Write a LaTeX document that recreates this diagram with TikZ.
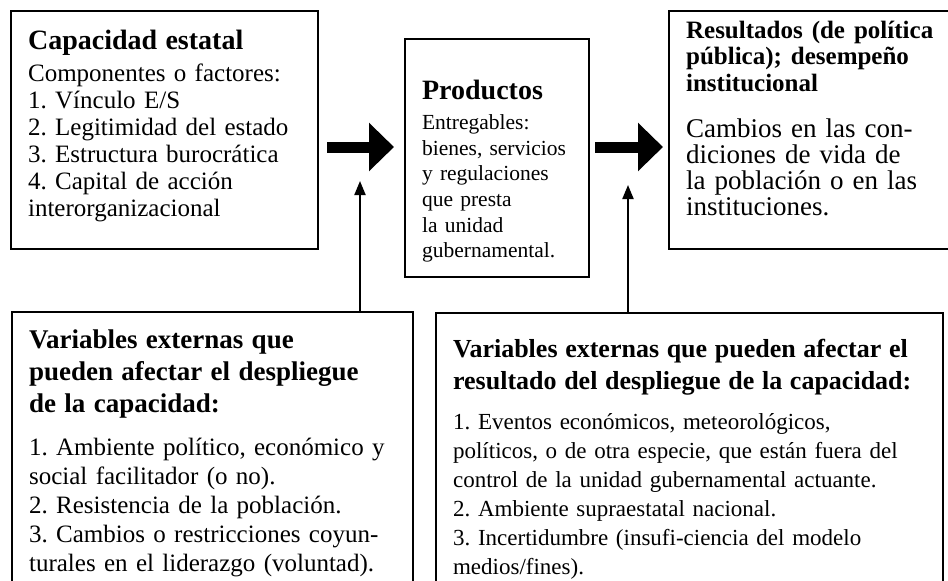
\documentclass[tikz,border=0pt]{standalone}
\usepackage{fontspec}
\setmainfont{Liberation Serif}
\frenchspacing
\usetikzlibrary{arrows.meta}

\newcommand{\hd}[3]{{\fontsize{#1}{#2}\selectfont\bfseries #3\par}}

\begin{document}
\begin{tikzpicture}[x=1pt, y=-1pt,
    box/.style={draw, line width=2.2pt, anchor=north west, align=left, inner xsep=17pt, inner ysep=0pt},
    bigarrow/.style={line width=11pt, -{Triangle[length=25pt, width=47pt]}},
    thinarrow/.style={line width=2pt, -{Triangle[length=14pt, width=11pt]}}]
    \useasboundingbox (0,0) rectangle (948,581);
    \clip (0,0) rectangle (948,581);

    % Boxes
    \node[box, text width=273pt, text height=38pt, text depth=200pt, font=\fontsize{25}{27}\selectfont] (cap) at (10,10)
        {\hd{28}{30}{Capacidad estatal}\vspace{5pt}Componentes o factores:\\1. Vínculo E/S\\2. Legitimidad del estado\\3. Estructura burocrática\\4. Capital de acción\\interorganizacional};
    \node[box, text width=150pt, text height=60pt, text depth=178pt, font=\fontsize{21.5}{25.6}\selectfont] (prod) at (404,38)
        {\hd{28}{30}{Productos}\vspace{5pt}Entregables:\\bienes, servicios\\y regulaciones\\que presta\\la unidad\\gubernamental.};
    \node[box, text width=310pt, text height=27pt, text depth=211pt, font=\fontsize{27}{26}\selectfont] (res) at (668,10)
        {\hd{25}{26.5}{Resultados (de política\\pública); desempeño\\institucional}\vspace{20pt}Cambios en las con-\\diciones de vida de\\la población o en las\\instituciones.};
    \node[box, text width=367pt, text height=36pt, text depth=300pt, font=\fontsize{25}{29}\selectfont] (vl) at (11,311)
        {\hd{27}{32}{Variables externas que\\pueden afectar el despliegue\\de la capacidad:}\vspace{14pt}1. Ambiente político, económico y\\social facilitador (o no).\\2. Resistencia de la población.\\3. Cambios o restricciones coyun-\\turales en el liderazgo (voluntad).};
    \node[box, text width=473pt, text height=44pt, text depth=300pt, font=\fontsize{23}{29}\selectfont] (vr) at (435,312)
        {\hd{26}{32}{Variables externas que pueden afectar el\\resultado del despliegue de la capacidad:}\vspace{11pt}1. Eventos económicos, meteorológicos,\\políticos, o de otra especie, que están fuera del\\control de la unidad gubernamental actuante.\\2. Ambiente supraestatal nacional.\\3. Incertidumbre (insufi-ciencia del modelo\\medios/fines).};

    % Big arrows between the boxes
    \coordinate (mid) at (0,147);
    \draw[bigarrow, shorten <=8pt, shorten >=10pt] (cap.east |- mid) -- (prod.west |- mid);
    \draw[bigarrow, shorten <=5pt, shorten >=5pt] (prod.east |- mid) -- (res.west |- mid);

    % External variables acting on the arrows
    \coordinate (tipA) at (360,181);
    \coordinate (tipB) at (628,185);
    \draw[thinarrow] (vl.north -| tipA) -- (tipA);
    \draw[thinarrow] (vr.north -| tipB) -- (tipB);
\end{tikzpicture}
\end{document}
